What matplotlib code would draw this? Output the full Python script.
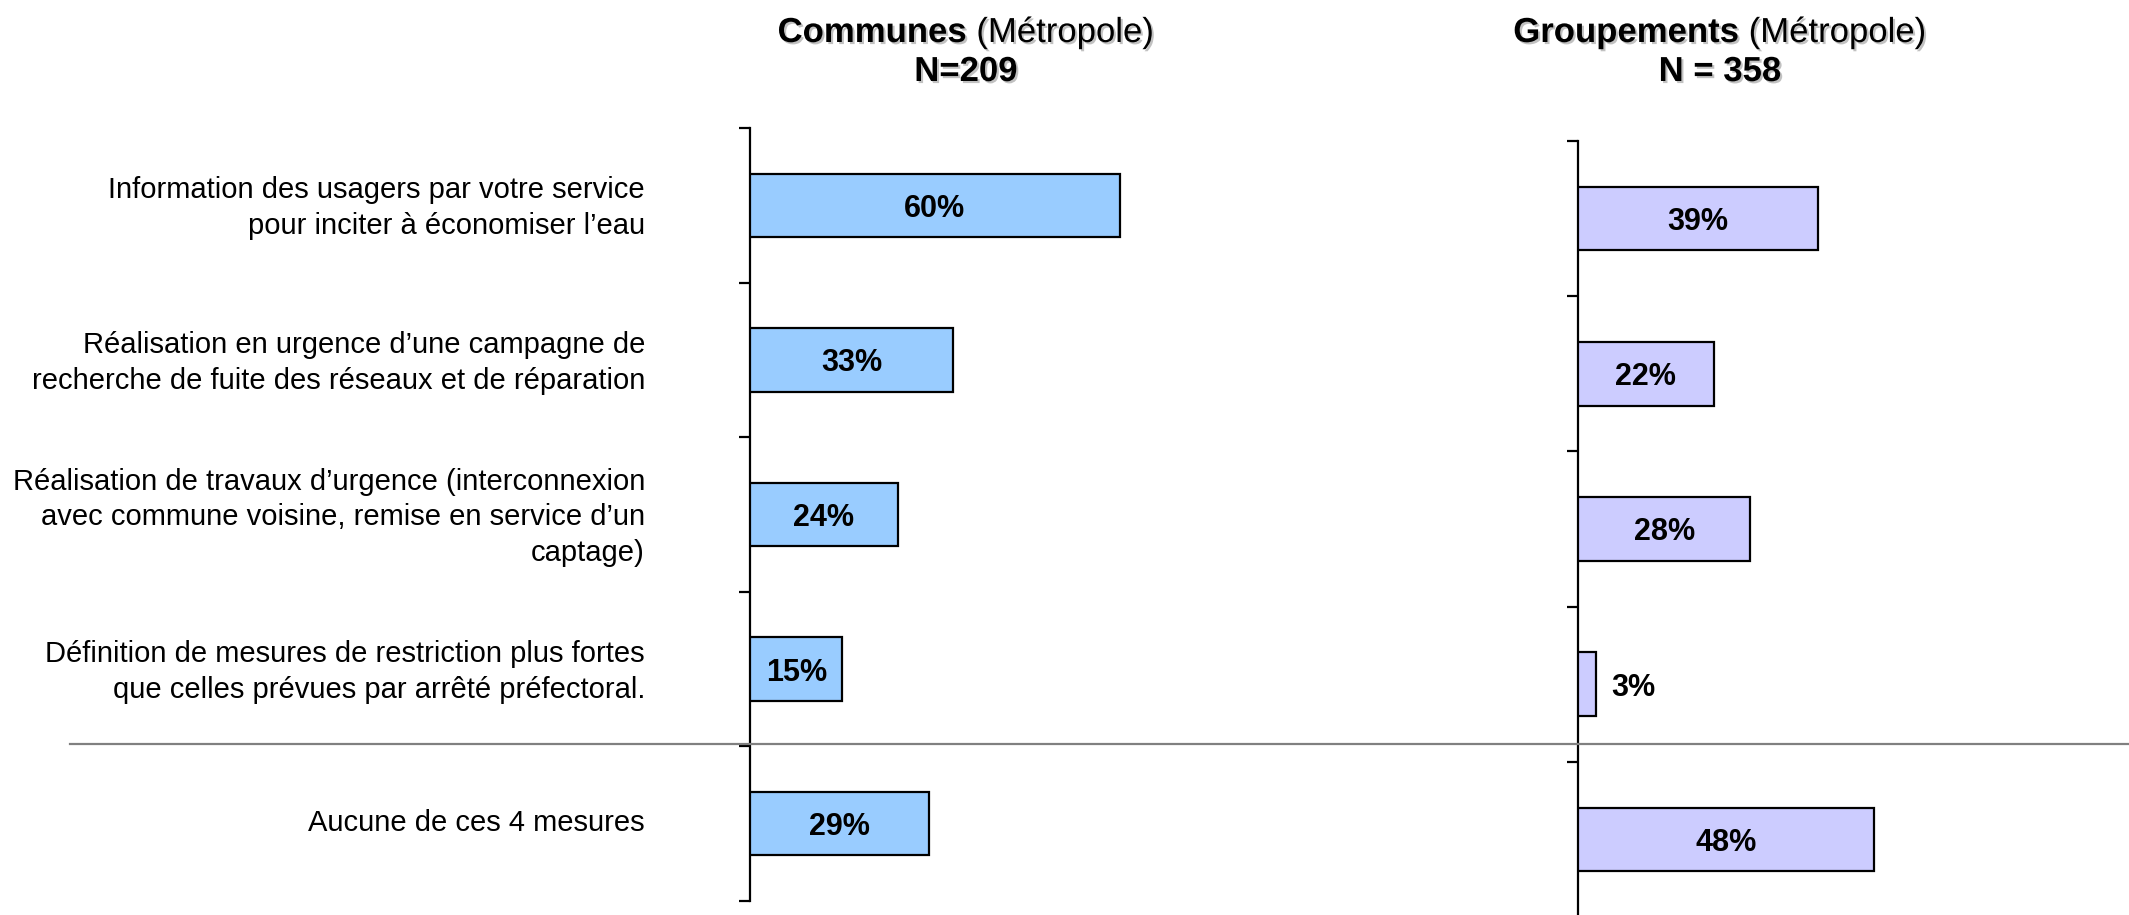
import matplotlib
matplotlib.use("Agg")
import matplotlib.pyplot as plt
import matplotlib.patheffects as pe
import numpy as np

plt.rcParams['font.family'] = ['Liberation Sans', 'DejaVu Sans']

# ---------------- data ----------------
categories = [
    "Information des usagers par votre service\npour inciter à économiser l\u2019eau",
    "Réalisation en urgence d\u2019une campagne de\nrecherche de fuite des réseaux et de réparation",
    "Réalisation de travaux d\u2019urgence (interconnexion\navec commune voisine, remise en service d\u2019un\ncaptage)",
    "Définition de mesures de restriction plus fortes\nque celles prévues par arrêté préfectoral.",
    "Aucune de ces 4 mesures",
]
communes = [60, 33, 24, 15, 29]
groupements = [39, 22, 28, 3, 48]
title_left_bold = "Communes"
title_left_reg = " (Métropole)"
title_left_n = "N=209"
title_right_bold = "Groupements"
title_right_reg = " (Métropole)"
title_right_n = "N = 358"

# ---------------- figure ----------------
W, H = 2129, 915
DPI = 100
fig = plt.figure(figsize=(W / DPI, H / DPI), dpi=DPI)

PX_PER_PCT = 6.16
AX_W = 520


def make_axes(left_px, top_px, bottom_px):
    ax = fig.add_axes([left_px / W, 1 - bottom_px / H, AX_W / W, (bottom_px - top_px) / H])
    ax.set_xlim(0, AX_W / PX_PER_PCT)
    n = len(categories)
    ax.set_ylim(n - 0.5, -0.5)
    for s in ("top", "right", "bottom"):
        ax.spines[s].set_visible(False)
    ax.spines["left"].set_linewidth(1.6)
    ax.spines["left"].set_color("black")
    ax.set_xticks([])
    ax.set_yticks(np.arange(-0.5, n, 1.0))
    ax.set_yticklabels([])
    ax.tick_params(axis="y", which="major", direction="out", length=8, width=1.6, color="black")
    ax.patch.set_alpha(0)
    return ax


ax1 = make_axes(750, 128, 901)
ax2 = make_axes(1578, 141, 917)

ypos = np.arange(len(categories))


def draw(ax, vals, color):
    ax.barh(ypos, vals, height=0.41, color=color, edgecolor="black", linewidth=1.6, zorder=3)
    for y, v in zip(ypos, vals):
        if v >= 10:
            ax.annotate(f"{v}%", xy=(v / 2, y), xytext=(0, -2.5), textcoords="offset points",
                        ha="center", va="center", fontsize=22, fontweight="bold",
                        color="black", zorder=4)
        else:
            ax.annotate(f"{v}%", xy=(v, y), xytext=(11, -2.5), textcoords="offset points",
                        ha="left", va="center", fontsize=22, fontweight="bold", color="black")


draw(ax1, communes, "#99CCFF")
draw(ax2, groupements, "#CCCCFF")

# category labels (left side)
for y, lab in zip(ypos, categories):
    ax1.annotate(lab, xy=(0, y), xytext=(-75.6, 2.9), textcoords="offset points",
                 ha="right", va="center_baseline", multialignment="right", fontsize=21,
                 linespacing=1.35, annotation_clip=False)

# separator line
fig.add_artist(plt.Line2D([70 / W, 1.0], [1 - 744 / H, 1 - 744 / H], color="#808080",
                          linewidth=1.6, transform=fig.transFigure))

# titles
shadow = [pe.withSimplePatchShadow(offset=(1.5, -1.5), shadow_rgbFace="#999999", alpha=0.6)]
renderer = fig.canvas.get_renderer()


def title(cx_px, bold, reg, ntxt):
    y1 = 1 - 42 / H
    y2 = 1 - 81 / H
    tb = fig.text(0, y1, bold, fontsize=25, fontweight="bold", ha="left", va="baseline",
                  path_effects=shadow)
    tr = fig.text(0, y1, reg, fontsize=25, ha="left", va="baseline", path_effects=shadow)
    wb = tb.get_window_extent(renderer).width
    wr = tr.get_window_extent(renderer).width
    x0 = cx_px - (wb + wr) / 2
    tb.set_x(x0 / W)
    tr.set_x((x0 + wb) / W)
    fig.text(cx_px / W, y2, ntxt, fontsize=25, fontweight="bold", ha="center", va="baseline",
             path_effects=shadow)


title(966, title_left_bold, title_left_reg, title_left_n)
title(1720, title_right_bold, title_right_reg, title_right_n)

fig.savefig("out.png", dpi=DPI)
